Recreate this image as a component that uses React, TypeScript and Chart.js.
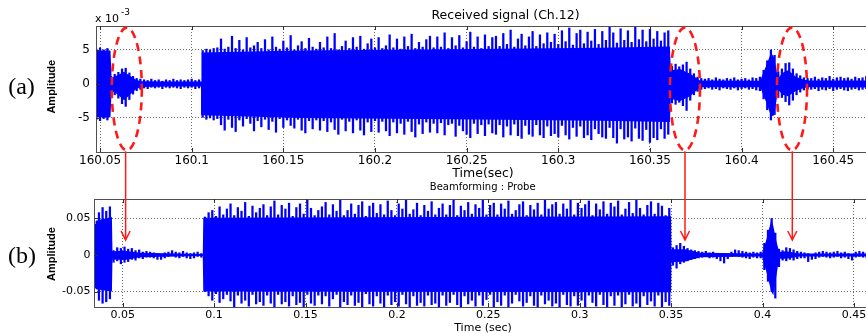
import React, { useEffect, useRef } from "react";
import { Chart, registerables } from "chart.js";

Chart.register(...registerables);

// ---------------- Panel (a): Received signal (Ch.12), amplitude in units of 1e-3 ----------------
const topStart = 160.048;
const topStep = 0.002;
const topHi = [
  5.1, 5.3, 5.0, 5.2,
  1.1, 1.4, 1.7, 2.2, 2.3, 1.6, 1.1, 0.8, 0.7,
  0.6, 0.5, 0.7, 0.5, 0.6, 0.4, 0.6, 0.5, 0.7, 0.5, 0.6, 0.5, 0.6, 0.7, 0.5, 0.6,
  4.9, 5.1, 5.0, 5.2, 5.3, 6.6, 5.1, 5.4, 7.0, 5.2, 6.4, 5.0, 6.8, 5.3, 5.6, 6.1,
  5.2, 6.5, 5.0, 6.9, 5.4, 5.1, 6.3, 5.3, 7.1, 5.0, 5.6, 6.2, 5.2, 6.7, 5.4, 5.1,
  6.1, 5.3, 6.9, 5.2, 7.4, 5.0, 5.5, 6.3, 5.2, 6.8, 5.4, 7.0, 5.1, 5.9, 6.6, 5.3,
  6.8, 5.2, 5.6, 7.2, 5.3, 6.6, 5.1, 6.9, 5.5, 7.3, 5.2, 6.1, 5.4, 6.5, 7.0, 5.3,
  6.9, 5.4, 7.5, 5.2, 6.8, 5.6, 7.1, 5.3, 6.2, 7.6, 5.4, 6.9, 5.2, 7.2, 5.5, 6.8,
  7.0, 5.5, 7.4, 5.8, 7.9, 5.4, 6.6, 7.3, 5.6, 6.9, 7.7, 5.5, 7.2, 5.9, 7.5, 6.1,
  7.3, 5.8, 7.8, 6.2, 8.2, 5.7, 7.4, 7.9, 5.9, 7.6, 6.3, 8.0, 5.8, 7.7, 6.4, 8.4,
  7.5, 6.0, 8.1, 6.4, 7.8, 6.1, 8.3, 6.5, 7.9, 6.2, 8.0, 6.6, 7.7, 6.3, 7.5, 7.8,
  2.6, 2.9, 2.5, 2.8, 3.2, 2.2, 1.5, 1.0, 0.8,
  0.7, 0.8, 0.6, 0.9, 0.7, 0.6, 0.8, 0.7, 0.9, 0.6, 0.7, 0.8, 0.6, 0.9, 0.8, 1.0,
  2.0, 3.4, 5.0, 4.2, 1.8,
  2.2, 3.0, 3.1, 2.2, 1.5, 1.2, 0.9, 0.8,
  0.8, 1.0, 0.7, 0.9, 0.8, 1.1, 0.7, 0.9, 1.0, 0.8, 0.9, 0.7, 1.0, 0.8, 0.9, 1.1, 0.8, 0.9,
];
const topLo = [
  -5.2, -5.4, -5.1, -5.3,
  -1.3, -1.6, -2.1, -2.9, -3.3, -2.3, -1.5, -1.0, -0.8,
  -0.6, -0.7, -0.5, -0.6, -0.5, -0.7, -0.5, -0.6, -0.5, -0.6, -0.7, -0.5, -0.6, -0.5, -0.7, -0.6,
  -4.9, -5.2, -5.0, -5.3, -5.1, -6.0, -6.8, -5.2, -6.4, -7.0, -5.3, -6.2, -5.1, -5.8, -6.9, -5.4,
  -6.3, -5.2, -6.7, -5.5, -7.1, -5.1, -6.4, -5.3, -6.1, -6.5, -5.2, -6.8, -7.2, -5.4, -6.6, -5.3,
  -6.8, -5.4, -7.0, -5.6, -6.7, -7.4, -5.2, -6.9, -5.5, -7.2, -5.3, -6.8, -7.5, -5.6, -7.0, -5.4,
  -7.1, -5.5, -6.9, -7.6, -5.6, -7.2, -5.8, -7.4, -5.5, -7.0, -7.8, -5.9, -7.3, -5.6, -7.1, -5.8,
  -7.2, -5.7, -7.5, -6.0, -5.8, -7.7, -6.1, -6.9, -7.4, -7.9, -5.8, -7.3, -6.0, -7.6, -5.9, -7.2,
  -7.4, -6.0, -7.8, -6.2, -7.5, -5.9, -7.6, -8.0, -6.1, -7.4, -7.7, -6.0, -7.5, -7.9, -6.2, -7.6,
  -7.3, -7.8, -6.1, -7.5, -8.1, -6.4, -7.7, -6.2, -7.9, -7.5, -8.2, -6.6, -7.3, -7.8, -8.0, -6.4,
  -7.9, -8.7, -6.6, -8.1, -7.8, -8.4, -6.5, -8.0, -8.3, -6.7, -8.6, -7.9, -8.2, -6.6, -8.0, -7.4,
  -2.8, -3.0, -2.7, -3.2, -3.9, -2.4, -1.6, -1.1, -0.8,
  -0.7, -0.6, -0.8, -0.7, -0.9, -0.6, -0.7, -0.8, -0.6, -0.9, -0.7, -0.6, -0.8, -0.7, -0.9, -1.0,
  -2.2, -3.8, -5.3, -4.5, -2.0,
  -2.0, -2.6, -3.1, -2.4, -1.6, -1.2, -0.9, -0.8,
  -0.8, -0.7, -1.0, -0.8, -0.9, -0.7, -1.0, -0.8, -0.7, -0.9, -1.0, -0.8, -0.7, -0.9, -0.8, -0.7, -1.0, -0.8,
];
// dense core of the trace (breakpoints)
const topCoreT = [
  160.0478, 160.0481, 160.0557, 160.0563, 160.0598, 160.0631, 160.0663, 160.0696, 160.0723, 160.0882,
  160.1051, 160.1055, 160.1591, 160.2409, 160.3228, 160.3609, 160.3614, 160.3664, 160.3719, 160.3774,
  160.4101, 160.4112, 160.4139, 160.4161, 160.4178, 160.4194, 160.4205, 160.4221, 160.4254, 160.4298,
  160.4341, 160.4369, 160.5083,
];
const topCoreHi = [
  4.9, 4.9, 4.9, 0.9, 1.3, 1.8, 1.2, 0.6, 0.4, 0.35,
  0.35, 4.6, 4.9, 5.1, 5.3, 5.5, 2.0, 2.2, 1.5, 0.5,
  0.45, 1.2, 3.0, 4.6, 3.8, 1.5, 1.0, 1.6, 2.0, 1.0,
  0.6, 0.5, 0.5,
];
const topCoreLo = [
  -4.9, -4.9, -4.9, -1.0, -1.6, -2.4, -1.6, -0.8, -0.45, -0.4,
  -0.4, -4.6, -5.0, -5.2, -5.4, -5.6, -2.2, -2.5, -1.8, -0.5,
  -0.5, -1.2, -3.0, -4.8, -4.6, -1.8, -1.0, -1.6, -1.8, -1.0,
  -0.6, -0.5, -0.55,
];
const topXRange = [160.0478, 160.50825];
const topYRange = [-10, 8.5];
const topXTicks = [160.05, 160.1, 160.15, 160.2, 160.25, 160.3, 160.35, 160.4, 160.45];
const topXLabels = ["160.05", "160.1", "160.15", "160.2", "160.25", "160.3", "160.35", "160.4", "160.45"];
const topYTicks = [-5, 0, 5];
const topYLabels = ["-5", "0", "5"];
const topTitle = "Received signal (Ch.12)";
const topXTitle = "Time(sec)";
const topExponent = ["x 10", "-3"];

// dashed ellipses marking the echoes
const ellipseTimes = [160.0646, 160.3691, 160.4275];
const ellipseHalfWidth = 0.0082;
const ellipseCenterY = -0.74;
const ellipseHalfHeight = 9.0;

// ---------------- Panel (b): Beamforming : Probe ----------------
const botStart = 0.035;
const botStep = 0.002;
const botHi = [
  0.042, 0.058, 0.065, 0.060, 0.066,
  0.006, 0.010, 0.009, 0.011, 0.008, 0.009, 0.006, 0.007, 0.004, 0.005, 0.004, 0.003, 0.002, 0.001, 0.003,
  0.004, 0.006, 0.004, 0.003, 0.005, 0.003, 0.002, 0.003, 0.004, 0.002,
  0.052, 0.058, 0.061, 0.053, 0.066, 0.055, 0.063, 0.070, 0.054, 0.065, 0.060, 0.072, 0.053, 0.067, 0.058, 0.064,
  0.069, 0.054, 0.066, 0.074, 0.055, 0.068, 0.063, 0.071, 0.053, 0.065, 0.070, 0.056, 0.076, 0.064, 0.054, 0.061,
  0.066, 0.072, 0.055, 0.069, 0.060, 0.075, 0.054, 0.061, 0.070, 0.056, 0.068, 0.073, 0.053, 0.067, 0.071, 0.057,
  0.069, 0.055, 0.074, 0.061, 0.054, 0.070, 0.063, 0.077, 0.056, 0.062, 0.071, 0.054, 0.068, 0.060, 0.073, 0.055,
  0.064, 0.070, 0.055, 0.068, 0.075, 0.054, 0.067, 0.061, 0.072, 0.056, 0.069, 0.064, 0.076, 0.055, 0.068, 0.071,
  0.055, 0.070, 0.063, 0.074, 0.056, 0.061, 0.069, 0.073, 0.054, 0.068, 0.062, 0.071, 0.055, 0.075, 0.063, 0.069,
  0.072, 0.056, 0.070, 0.063, 0.076, 0.055, 0.071, 0.064, 0.069, 0.074, 0.054, 0.070, 0.062, 0.073, 0.056, 0.071,
  0.066, 0.074, 0.055, 0.063, 0.072, 0.057, 0.075, 0.064, 0.055, 0.068, 0.073, 0.056, 0.071, 0.067, 0.054, 0.064,
  0.010, 0.013, 0.016, 0.012, 0.009, 0.007, 0.006, 0.005,
  0.004, 0.005, 0.003, 0.004, 0.002, 0.001, 0.000, 0.002, 0.004, 0.007, 0.006, 0.005, 0.004, 0.003, 0.004, 0.003,
  0.004, 0.016, 0.034, 0.050, 0.030, 0.008,
  0.006, 0.010, 0.009, 0.007, 0.005, 0.004,
  0.003, 0.002, 0.001, 0.003, 0.004, 0.005, 0.004, 0.003, 0.004, 0.005, 0.003, 0.004, 0.002, 0.001, 0.004,
  0.005, 0.004, 0.003, 0.004,
];
const botLo = [
  -0.045, -0.062, -0.066, -0.064, -0.060,
  -0.010, -0.008, -0.012, -0.010, -0.009, -0.006, -0.007, -0.004, -0.005, -0.003, -0.003, -0.004, -0.006, -0.006, -0.004,
  -0.002, -0.001, -0.003, -0.004, -0.002, -0.004, -0.005, -0.004, -0.002, -0.003,
  -0.050, -0.056, -0.062, -0.053, -0.065, -0.060, -0.054, -0.063, -0.071, -0.055, -0.066, -0.062, -0.070, -0.054, -0.067, -0.064,
  -0.069, -0.055, -0.066, -0.071, -0.054, -0.067, -0.064, -0.070, -0.056, -0.068, -0.065, -0.071, -0.054, -0.066, -0.069, -0.055,
  -0.067, -0.056, -0.070, -0.060, -0.054, -0.071, -0.064, -0.068, -0.055, -0.069, -0.065, -0.071, -0.053, -0.067, -0.070, -0.056,
  -0.066, -0.071, -0.055, -0.068, -0.064, -0.070, -0.054, -0.067, -0.071, -0.056, -0.069, -0.065, -0.070, -0.055, -0.068, -0.066,
  -0.071, -0.055, -0.069, -0.065, -0.054, -0.068, -0.071, -0.056, -0.067, -0.062, -0.070, -0.055, -0.069, -0.061, -0.054, -0.071,
  -0.064, -0.069, -0.055, -0.071, -0.066, -0.054, -0.063, -0.070, -0.065, -0.056, -0.069, -0.071, -0.055, -0.067, -0.062, -0.070,
  -0.066, -0.071, -0.054, -0.068, -0.070, -0.056, -0.069, -0.062, -0.071, -0.055, -0.065, -0.070, -0.054, -0.068, -0.071, -0.056,
  -0.069, -0.055, -0.071, -0.067, -0.054, -0.070, -0.066, -0.071, -0.056, -0.068, -0.063, -0.070, -0.055, -0.071, -0.064, -0.069,
  -0.014, -0.018, -0.012, -0.010, -0.008, -0.006, -0.005, -0.004,
  -0.003, -0.002, -0.004, -0.003, -0.005, -0.008, -0.011, -0.005, -0.002, -0.001, -0.002, -0.003, -0.004, -0.005, -0.003, -0.004,
  -0.004, -0.020, -0.036, -0.050, -0.059, -0.016,
  -0.007, -0.008, -0.006, -0.007, -0.005, -0.004,
  -0.004, -0.009, -0.006, -0.005, -0.003, -0.002, -0.003, -0.004, -0.003, -0.002, -0.004, -0.003, -0.005, -0.007, -0.003,
  -0.002, -0.003, -0.004, -0.003,
];
const botCoreT = [
  0.0343, 0.0352, 0.0441, 0.0444, 0.0513, 0.0595, 0.0938, 0.0941, 0.35, 0.3502,
  0.3577, 0.3659, 0.3997, 0.402, 0.4048, 0.4059, 0.4075, 0.4091, 0.4129, 0.4206,
  0.497,
];
const botCoreHi = [
  0, 0.047, 0.052, 0.005, 0.006, 0.003, 0.0015, 0.051, 0.053, 0.008,
  0.008, 0.003, 0.002, 0.02, 0.048, 0.04, 0.02, 0.004, 0.005, 0.002,
  0.002,
];
const botCoreLo = [
  0, -0.047, -0.05, -0.006, -0.007, -0.003, -0.0015, -0.05, -0.051, -0.01,
  -0.009, -0.003, -0.002, -0.022, -0.05, -0.055, -0.03, -0.005, -0.005, -0.002,
  -0.002,
];
const botXRange = [0.0343, 0.4971];
const botYRange = [-0.0712, 0.0767];
const botXTicks = [0.05, 0.1, 0.15, 0.2, 0.25, 0.3, 0.35, 0.4, 0.45];
const botXLabels = ["0.05", "0.1", "0.15", "0.2", "0.25", "0.3", "0.35", "0.4", "0.45"];
const botYTicks = [-0.05, 0, 0.05];
const botYLabels = ["-0.05", "0", "0.05"];
const botTitle = "Beamforming : Probe";
const botXTitle = "Time (sec)";

// arrows from the ellipses in (a) down to (b)
const arrowTimes = [0.0516, 0.3576, 0.4163];
const arrowTipValue = 0.0205;

const yTitle = "Amplitude";
const panelTags = ["(a)", "(b)"];

const BLUE = "#0000ff";
const RED = "#ff1a1a";
const SANS = '"DejaVu Sans", sans-serif';
const TOP_OFFSET = 178; // page y of the second canvas

type Panel = {
  start: number; step: number; hi: number[]; lo: number[];
  coreT: number[]; coreHi: number[]; coreLo: number[];
  xRange: number[]; yRange: number[];
  xTicks: number[]; xLabels: string[]; yTicks: number[]; yLabels: string[];
  axisWidth: number; topPad: number; xAxisHeight: number;
  tickSize: number; yPad: number; xPad: number;
};

function frameAndTicks(chart: any) {
  const { ctx, chartArea } = chart;
  const { left, top, right, bottom } = chartArea;
  ctx.save();
  ctx.strokeStyle = "#505050";
  ctx.lineWidth = 1;
  ctx.strokeRect(Math.round(left) + 0.5, Math.round(top) + 0.5, right - left, bottom - top);
  ctx.strokeStyle = "#303030";
  ctx.beginPath();
  chart.scales.x.ticks.forEach((t: any) => {
    const px = Math.round(chart.scales.x.getPixelForValue(t.value)) + 0.5;
    ctx.moveTo(px, bottom); ctx.lineTo(px, bottom - 4);
    ctx.moveTo(px, top); ctx.lineTo(px, top + 4);
  });
  chart.scales.y.ticks.forEach((t: any) => {
    const py = Math.round(chart.scales.y.getPixelForValue(t.value)) + 0.5;
    ctx.moveTo(left, py); ctx.lineTo(left + 4, py);
  });
  ctx.stroke();
  ctx.restore();
}

function drawText(ctx: CanvasRenderingContext2D, text: string, x: number, y: number, font: string, align: CanvasTextAlign = "center", rot = 0) {
  ctx.save();
  ctx.translate(x, y);
  if (rot) ctx.rotate(rot);
  ctx.font = font;
  ctx.fillStyle = "#000";
  ctx.textAlign = align;
  ctx.textBaseline = "middle";
  ctx.fillText(text, 0, 0);
  ctx.restore();
}

function makeConfig(p: Panel, plugin: any): any {
  const bars = p.hi.map((h, i) => ({ x: p.start + i * p.step, y: [p.lo[i], h] }));
  const coreTop = p.coreT.map((t, i) => ({ x: t, y: p.coreHi[i] }));
  const coreBot = p.coreT.map((t, i) => ({ x: t, y: p.coreLo[i] }));
  const tickFont = { family: SANS, size: p.tickSize };
  return {
    type: "bar",
    data: {
      datasets: [
        { type: "line", data: coreTop, borderWidth: 0, borderColor: "rgba(0,0,0,0)", pointRadius: 0, fill: "+1", backgroundColor: BLUE, tension: 0, order: 2 },
        { type: "line", data: coreBot, borderWidth: 0, borderColor: "rgba(0,0,0,0)", pointRadius: 0, fill: false, tension: 0, order: 2 },
        { type: "bar", data: bars, backgroundColor: BLUE, borderWidth: 0, barThickness: 1.6, grouped: false, order: 1 },
      ],
    },
    options: {
      animation: false,
      responsive: false,
      devicePixelRatio: 1,
      events: [],
      layout: { padding: { top: p.topPad, left: 0, right: 0, bottom: 0 } },
      plugins: { legend: { display: false }, tooltip: { enabled: false }, title: { display: false } },
      scales: {
        x: {
          type: "linear",
          min: p.xRange[0], max: p.xRange[1], offset: false,
          afterBuildTicks: (s: any) => { s.ticks = p.xTicks.map((v) => ({ value: v })); },
          afterFit: (s: any) => { s.height = p.xAxisHeight; },
          ticks: { autoSkip: false, maxRotation: 0, minRotation: 0, padding: p.xPad, font: tickFont, color: "#000", callback: (_v: any, i: number) => p.xLabels[i] },
          grid: { color: "#6a6a6a", lineWidth: 1, drawTicks: false, offset: false },
          border: { display: false, dash: [1, 2] },
        },
        y: {
          type: "linear",
          min: p.yRange[0], max: p.yRange[1],
          afterBuildTicks: (s: any) => { s.ticks = p.yTicks.map((v) => ({ value: v })); },
          afterFit: (s: any) => { s.width = p.axisWidth; },
          ticks: { autoSkip: false, padding: p.yPad, font: tickFont, color: "#000", callback: (_v: any, i: number) => p.yLabels[i] },
          grid: { color: "#6a6a6a", lineWidth: 1, drawTicks: false, offset: false },
          border: { display: false, dash: [1, 2] },
        },
      },
    },
    plugins: [plugin],
  };
}

const topPanel: Panel = {
  start: topStart, step: topStep, hi: topHi, lo: topLo,
  coreT: topCoreT, coreHi: topCoreHi, coreLo: topCoreLo,
  xRange: topXRange, yRange: topYRange,
  xTicks: topXTicks, xLabels: topXLabels, yTicks: topYTicks, yLabels: topYLabels,
  axisWidth: 96, topPad: 26, xAxisHeight: 30, tickSize: 12, yPad: 6, xPad: 2,
};
const botPanel: Panel = {
  start: botStart, step: botStep, hi: botHi, lo: botLo,
  coreT: botCoreT, coreHi: botCoreHi, coreLo: botCoreLo,
  xRange: botXRange, yRange: botYRange,
  xTicks: botXTicks, xLabels: botXLabels, yTicks: botYTicks, yLabels: botYLabels,
  axisWidth: 94, topPad: 21, xAxisHeight: 26, tickSize: 11, yPad: 3.5, xPad: 2,
};

const topPlugin = {
  id: "panelA",
  afterDraw(chart: any) {
    const { ctx, chartArea, scales } = chart;
    frameAndTicks(chart);
    ctx.save();
    ctx.strokeStyle = RED;
    ctx.lineWidth = 2.6;
    ctx.setLineDash([8, 5.5]);
    ellipseTimes.forEach((t) => {
      const cx = scales.x.getPixelForValue(t);
      const rx = scales.x.getPixelForValue(t + ellipseHalfWidth) - cx;
      const cy = scales.y.getPixelForValue(ellipseCenterY);
      const ry = cy - scales.y.getPixelForValue(ellipseCenterY + ellipseHalfHeight);
      ctx.beginPath();
      ctx.ellipse(cx, cy, rx, ry, 0, 0, Math.PI * 2);
      ctx.stroke();
    });
    ctx.restore();
    const L = chartArea.left, T = chartArea.top;
    drawText(ctx, topTitle, L + 409.5, T - 10.5, `12.5px ${SANS}`);
    drawText(ctx, topXTitle, L + 387, chartArea.bottom + 21.5, `12.5px ${SANS}`);
    drawText(ctx, topExponent[0], L - 1, T - 6.5, `11px ${SANS}`, "left");
    drawText(ctx, topExponent[1], L + 25, T - 13, `9px ${SANS}`, "left");
    drawText(ctx, yTitle, 51.7, 86.7, `bold 11px "Liberation Sans", Arial, sans-serif`, "center", -Math.PI / 2);
    drawText(ctx, panelTags[0], 21.5, 88, `24px "Liberation Serif", "Times New Roman", serif`);
  },
};

const botPlugin = {
  id: "panelB",
  afterDraw(chart: any) {
    const { ctx, chartArea } = chart;
    frameAndTicks(chart);
    const L = chartArea.left, T = chartArea.top;
    drawText(ctx, botTitle, L + 388.7, T - 11.5, `10px ${SANS}`);
    drawText(ctx, botXTitle, L + 389, chartArea.bottom + 21.5, `11px ${SANS}`);
    drawText(ctx, yTitle, 51.7, 76, `bold 11px "Liberation Sans", Arial, sans-serif`, "center", -Math.PI / 2);
    drawText(ctx, panelTags[1], 22, 79, `24px "Liberation Serif", "Times New Roman", serif`);
  },
};

function drawArrows(canvas: HTMLCanvasElement, top: any, bot: any) {
  const ctx = canvas.getContext("2d")!;
  ctx.clearRect(0, 0, canvas.width, canvas.height);
  const yStart = top.scales.y.getPixelForValue(ellipseCenterY - ellipseHalfHeight) + 1;
  const yTip = bot.scales.y.getPixelForValue(arrowTipValue) + TOP_OFFSET;
  ctx.save();
  ctx.strokeStyle = RED;
  ctx.lineWidth = 1.5;
  arrowTimes.forEach((t) => {
    const x = bot.scales.x.getPixelForValue(t);
    ctx.beginPath();
    ctx.moveTo(x, yStart);
    ctx.lineTo(x, yTip);
    ctx.moveTo(x - 4.5, yTip - 9);
    ctx.lineTo(x, yTip);
    ctx.lineTo(x + 4.5, yTip - 9);
    ctx.stroke();
  });
  ctx.restore();
}

export default function App() {
  const topRef = useRef<HTMLCanvasElement>(null);
  const botRef = useRef<HTMLCanvasElement>(null);
  const ovRef = useRef<HTMLCanvasElement>(null);
  useEffect(() => {
    const top = new Chart(topRef.current!, makeConfig(topPanel, topPlugin));
    const bot = new Chart(botRef.current!, makeConfig(botPanel, botPlugin));
    drawArrows(ovRef.current!, top, bot);
    return () => {
      top.destroy();
      bot.destroy();
    };
  }, []);
  return (
    <div style={{ position: "fixed", left: 0, top: 0, width: 866, height: 333, overflow: "hidden", background: "#fff" }}>
      <canvas ref={topRef} width={940} height={182} style={{ position: "absolute", left: 0, top: 0 }} />
      <canvas ref={botRef} width={940} height={155} style={{ position: "absolute", left: 0, top: TOP_OFFSET }} />
      <canvas ref={ovRef} width={866} height={333} style={{ position: "absolute", left: 0, top: 0, pointerEvents: "none" }} />
    </div>
  );
}
